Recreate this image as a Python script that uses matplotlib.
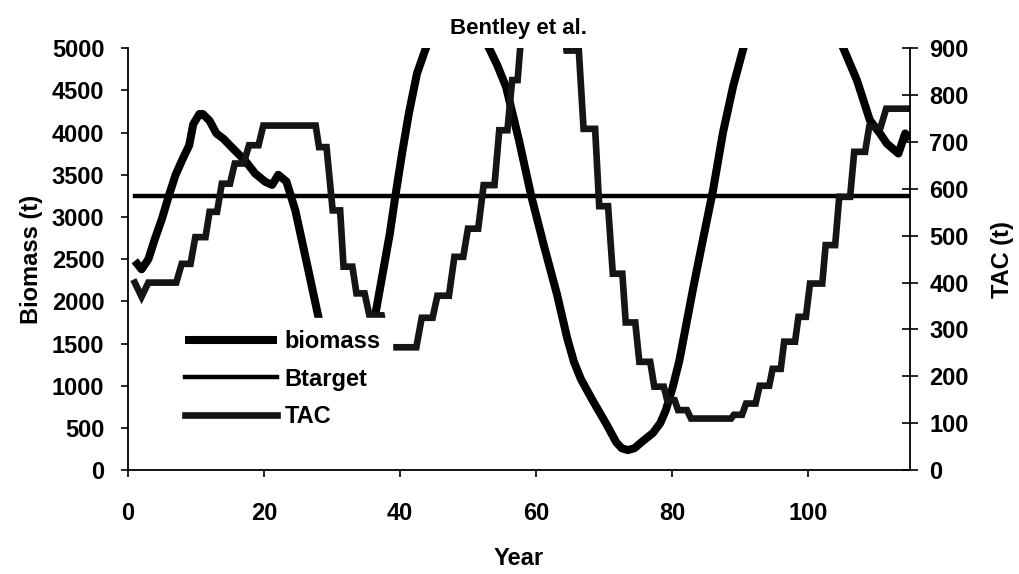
import matplotlib
matplotlib.use("Agg")
import matplotlib.pyplot as plt

plt.rcParams['font.family'] = ['Liberation Sans', 'DejaVu Sans']
plt.rcParams['font.weight'] = 'bold'
plt.rcParams['font.size'] = 17

# biomass (t) (year, value)
bio_year = [1, 2, 3, 4, 5, 6, 7, 8, 9, 9.6, 10.5, 11, 12, 13, 14, 15.7, 17.2, 18.7,
            20.2, 21.2, 22.1, 23.3, 24.6, 26.1, 28, 29, 30, 31, 32, 33, 34, 35, 36.5,
            37.5, 38.5, 39.3, 40.3, 41.3, 42.5, 43.8, 45.5, 47.5, 49.5, 51.5, 53.1,
            54.3, 55.6, 57.5, 59.3, 61.2, 63.1, 64.6, 65.6, 66.6, 68.3, 70.3, 71.8,
            72.6, 73.5, 74.5, 75.5, 77.2, 78.3, 79.1, 80.1, 81.1, 83.1, 84.6, 86,
            87.5, 89, 90.5, 93, 97, 101, 103.5, 105.2, 107.2, 109.1, 110.6, 111.6,
            113.3, 114.3, 115]
biomass = [2480, 2380, 2500, 2750, 2980, 3250, 3500, 3680, 3850, 4100, 4220, 4220,
           4140, 3990, 3930, 3790, 3670, 3515, 3416, 3380, 3500, 3420, 3080, 2527,
           1816, 1480, 1180, 950, 850, 900, 1100, 1450, 1900, 2350, 2800, 3238, 3750,
           4226, 4700, 5000, 5300, 5450, 5450, 5280, 5000, 4800, 4542, 3910, 3250,
           2650, 2080, 1560, 1280, 1080, 830, 553, 330, 260, 237, 260, 330, 440, 560,
           711, 980, 1303, 2150, 2750, 3300, 4000, 4550, 5000, 5500, 5750, 5600, 5300,
           5000, 4621, 4147, 3989, 3870, 3752, 3990, 3920]

btarget = 3250

# TAC (t), stair path (year, value)
tac_year = [1, 2, 3, 7.1, 7.9, 9.2, 9.9, 11.4, 12, 13.1, 13.8, 15, 15.7, 17, 17.8,
            19.2, 19.9, 27.6, 28.1, 29.2, 30.1, 31.2, 31.7, 33, 33.6, 34.8, 35.5,
            37.3, 38.2, 42.4, 43.2, 44.8, 45.5, 47.2, 48, 49.3, 50, 51.5, 52.3, 53.9,
            54.6, 55.8, 56.5, 57.3, 58, 64, 64.5, 66.3, 67, 68.7, 69.3, 70.6, 71.3,
            72.7, 73.2, 74.6, 75.2, 76.8, 77.4, 78.8, 79.3, 80.4, 80.9, 82.2, 82.8,
            88.7, 89.1, 90.3, 90.9, 92.3, 92.9, 94.3, 94.8, 96, 96.5, 98.1, 98.6, 99.7,
            100.3, 102.1, 102.6, 104, 104.6, 106.2, 106.8, 108.4, 109, 110.7, 111.5, 115]
tac = [400, 370, 400, 400, 440, 440, 497, 497, 551, 551, 611, 611, 654, 654, 693,
       693, 735, 735, 689, 689, 554, 554, 434, 434, 377, 377, 330, 330, 262, 262,
       325, 325, 372, 372, 455, 455, 515, 515, 608, 608, 725, 725, 832, 832, 960,
       960, 895, 895, 728, 728, 563, 563, 419, 419, 315, 315, 231, 231, 178, 178,
       149, 149, 128, 128, 110, 110, 118, 118, 142, 142, 180, 180, 216, 216, 274,
       274, 327, 327, 398, 398, 480, 480, 583, 583, 679, 679, 732, 732, 771, 771]

fig = plt.figure(figsize=(10.19, 5.74), dpi=100)
ax = fig.add_axes([0.1256, 0.181, 0.7674, 0.735])
ax2 = ax.twinx()

l1, = ax.plot(bio_year, biomass, color='black', lw=5.8, solid_capstyle='butt', label='biomass')
l2, = ax.plot([bio_year[0], bio_year[-1]], [btarget, btarget], color='black', lw=3.2, label='Btarget')
l3, = ax2.plot(tac_year, tac, color='#151515', lw=4.8, solid_joinstyle='miter', label='TAC')

ax.set_xlim(0, 115)
ax.set_ylim(0, 5000)
ax2.set_ylim(0, 900)
ax.set_xticks(range(0, 101, 20))
ax.set_yticks(range(0, 5001, 500))
ax2.set_yticks(range(0, 901, 100))

for a in (ax, ax2):
    a.spines['top'].set_visible(False)
    a.spines['left'].set_linewidth(1.3)
    a.spines['right'].set_linewidth(1.3)
    a.spines['bottom'].set_linewidth(1.3)
ax.spines['right'].set_visible(False)
ax2.spines['left'].set_visible(False)
ax2.spines['bottom'].set_visible(False)

ax.tick_params(axis='y', direction='out', length=5, width=1.2, pad=12)
ax.tick_params(axis='x', direction='out', length=5, width=1.2, pad=18)
ax2.tick_params(axis='y', direction='inout', length=12, width=1.2, pad=8)

ax.set_ylabel('Biomass (t)', fontsize=17, fontweight='bold', labelpad=6)
ax2.set_ylabel('TAC (t)', fontsize=17, fontweight='bold', labelpad=16)
ax.set_xlabel('Year', fontsize=17, fontweight='bold', labelpad=16)
ax.set_title('Bentley et al.', fontsize=16, fontweight='bold', pad=10)

leg = ax2.legend([l1, l2, l3], ['biomass', 'Btarget', 'TAC'], loc='upper left',
                 bbox_to_anchor=(0.058, 0.36), borderaxespad=0, frameon=True,
                 fancybox=False, facecolor='white', edgecolor='white', framealpha=1,
                 handlelength=3.9, handletextpad=0.3, labelspacing=0.62, borderpad=0.5,
                 prop={'size': 17, 'weight': 'bold'})

fig.savefig('out.png', dpi=100)
